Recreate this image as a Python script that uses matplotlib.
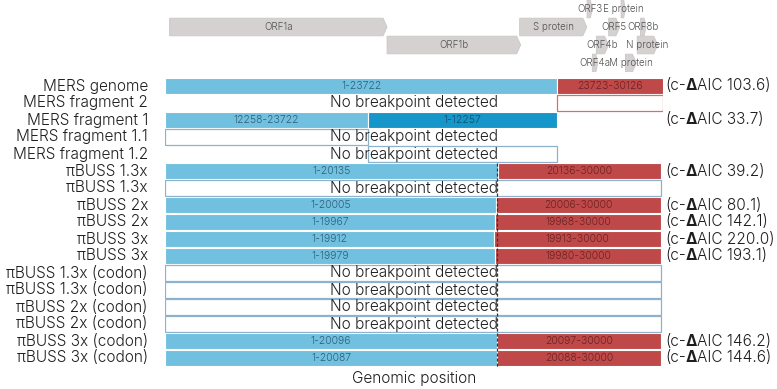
import matplotlib
matplotlib.use("Agg")
import matplotlib.pyplot as plt
from matplotlib.patches import Polygon, Rectangle

FONT = ['Inter', 'DejaVu Sans']
plt.rcParams['font.family'] = FONT

GENOME_LEN = 30126

# ---- gene map ----
gene_names = ["ORF1a", "ORF1b", "S protein", "ORF3", "ORF4a", "ORF4b", "ORF5",
              "E protein", "M protein", "N protein", "ORF8b"]
gene_start = [279, 13433, 21456, 25532, 25852, 26093, 26840, 27590, 27853, 28566, 28762]
gene_end = [13433, 21514, 25517, 25843, 26181, 26833, 27514, 27838, 28512, 29807, 29100]
gene_level = [1, 2, 1, 0, 3, 2, 1, 0, 3, 2, 1]

# ---- recombination rows ----
row_labels = ["MERS genome", "MERS fragment 2", "MERS fragment 1", "MERS fragment 1.1",
              "MERS fragment 1.2", "πBUSS 1.3x", "πBUSS 1.3x", "πBUSS 2x", "πBUSS 2x",
              "πBUSS 3x", "πBUSS 3x", "πBUSS 1.3x (codon)", "πBUSS 1.3x (codon)",
              "πBUSS 2x (codon)", "πBUSS 2x (codon)", "πBUSS 3x (codon)", "πBUSS 3x (codon)"]
seg_row = [0, 0, 2, 2, 5, 5, 7, 7, 8, 8, 9, 9, 10, 10, 15, 15, 16, 16]
seg_start = [1, 23723, 1, 12258, 1, 20136, 1, 20006, 1, 19968, 1, 19913, 1, 19980, 1, 20097, 1, 20088]
seg_end = [23722, 30126, 12257, 23722, 20135, 30000, 20005, 30000, 19967, 30000, 19912, 30000,
           19979, 30000, 20096, 30000, 20087, 30000]
seg_kind = ["blue", "red", "blue", "dark", "blue", "red", "blue", "red", "blue", "red",
            "blue", "red", "blue", "red", "blue", "red", "blue", "red"]
seg_label = ["1-23722", "23723-30126", "12258-23722", "1-12257", "1-20135", "20136-30000",
             "1-20005", "20006-30000", "1-19967", "19968-30000", "1-19912", "19913-30000",
             "1-19979", "19980-30000", "1-20096", "20097-30000", "1-20087", "20088-30000"]
nb_row = [1, 3, 4, 6, 11, 12, 13, 14]
nb_start = [23723, 1, 12258, 1, 1, 1, 1, 1]
nb_end = [30126, 12257, 23722, 30000, 30000, 30000, 30000, 30000]
nb_edge = ["red", "blue", "blue", "blue", "blue", "blue", "blue", "blue"]
aic_row = [0, 2, 5, 7, 8, 9, 10, 15, 16]
aic_val = ["103.6", "33.7", "39.2", "80.1", "142.1", "220.0", "193.1", "146.2", "144.6"]
dash_pos = 20085
dash_from_row = 5

colors = {"blue": "#72c0e0", "dark": "#1796c9", "red": "#bf4949"}
label_colors = {"blue": "#2f5f78", "dark": "#0d4f6e", "red": "#6a2222"}
edge_colors = {"blue": "#8fb2cc", "red": "#d07070"}
TXT = "#1e1e1e"

W, H = 777, 389
fig = plt.figure(figsize=(W / 100, H / 100), dpi=100)
renderer = fig.canvas.get_renderer()


def fit_size(s, target_px, weight=300):
    t = fig.text(0, 0, s, fontsize=10, weight=weight)
    w = t.get_window_extent(renderer).width
    t.remove()
    return 10 * target_px / w


FS_MAIN = fit_size("No breakpoint detected", 168)
FS_BAR = fit_size("1-23722", 40, 300)
FS_GENE = fit_size("S protein", 41, 300)

# gene map axes
gax = fig.add_axes([165 / W, 1 - 72 / H, 498 / W, 72 / H])
gax.set_xlim(0, GENOME_LEN)
gax.set_ylim(3.5, -0.5)
gax.axis("off")
for name, s, e, lv in zip(gene_names, gene_start, gene_end, gene_level):
    L = e - s
    tip = min(240, 0.35 * L)
    h = 0.49
    pts = [(s, lv - h), (e - tip, lv - h), (e, lv), (e - tip, lv + h), (s, lv + h)]
    gax.add_patch(Polygon(pts, closed=True, facecolor="#d5d1d1", edgecolor="#cbc7c7", lw=0.6))
for name, s, e, lv in zip(gene_names, gene_start, gene_end, gene_level):
    gax.text((s + e) / 2, lv, name, ha="center", va="center", fontsize=FS_GENE,
             color="#555555", weight=300)

# main axes
ax = fig.add_axes([165 / W, 1 - 366.5 / H, 498 / W, 289 / H])
ax.set_xlim(0, GENOME_LEN)
ax.set_ylim(16.5, -0.5)
ax.axis("off")
bh = 0.92

for r, s, e, k, lab in zip(seg_row, seg_start, seg_end, seg_kind, seg_label):
    ax.add_patch(Rectangle((s, r - bh / 2), e - s, bh, facecolor=colors[k],
                           edgecolor="white", lw=0.8))
    ax.text((s + e) / 2, r, lab, ha="center", va="center", fontsize=FS_BAR,
            color=label_colors[k], weight=300)

for r, s, e, k in zip(nb_row, nb_start, nb_end, nb_edge):
    ax.add_patch(Rectangle((s, r - bh / 2), e - s, bh, facecolor="white",
                           edgecolor=edge_colors[k], lw=0.9))
for r in nb_row:
    ax.text(GENOME_LEN / 2, r, "No breakpoint detected", ha="center", va="center",
            fontsize=FS_MAIN, color=TXT, weight=300)

ax.plot([dash_pos, dash_pos], [dash_from_row - 0.5, 16.5], ls=(0, (2.5, 1.5)),
        color="#333333", lw=0.9)

ytr = ax.get_yaxis_transform()
for i, lab in enumerate(row_labels):
    ax.text((148 - 165) / 498, i, lab, transform=ytr, ha="right", va="center",
            fontsize=FS_MAIN, color=TXT, clip_on=False, weight=300)
for r, v in zip(aic_row, aic_val):
    t1 = ax.text((665 - 165) / 498, r, "(c-", transform=ytr, ha="left", va="center",
                 fontsize=FS_MAIN, color=TXT, clip_on=False, weight=300)
    t2 = ax.annotate("Δ", xy=(1, 0), xycoords=t1, ha="left", va="bottom",
                     fontsize=FS_MAIN, color=TXT, weight=700, annotation_clip=False)
    ax.annotate("AIC " + v + ")", xy=(1, 0), xycoords=t2, ha="left", va="bottom",
                fontsize=FS_MAIN, color=TXT, weight=300, annotation_clip=False)

fig.text(414 / W, 1 - 378 / H, "Genomic position", ha="center", va="center",
         fontsize=FS_MAIN, color=TXT, weight=300)

fig.savefig("out.png", dpi=100)
